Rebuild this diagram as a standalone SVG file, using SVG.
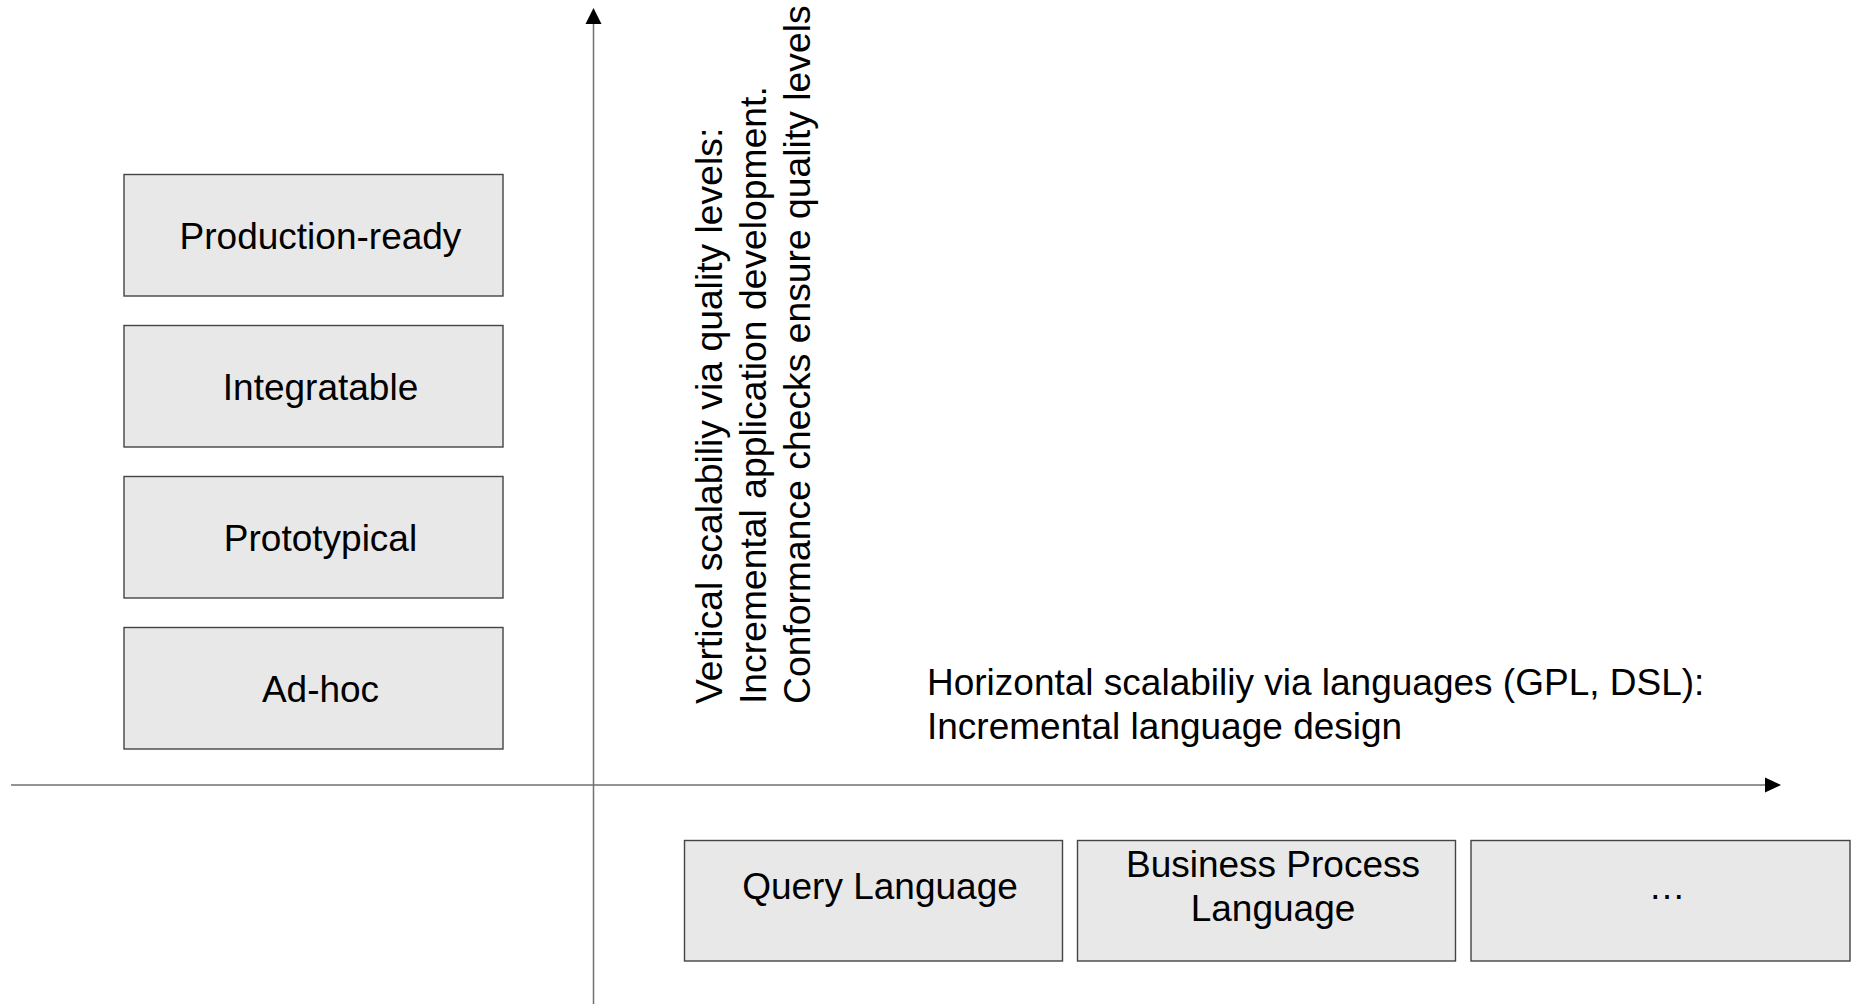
<svg xmlns="http://www.w3.org/2000/svg" width="1852" height="1004" viewBox="0 0 1852 1004">
  <style>
    .box { fill: #e8e8e8; stroke: #444; stroke-width: 1.4; }
    .lbl { font-family: "Liberation Sans", Arial, sans-serif; font-size: 37px; fill: #000; }
    .vcap { font-size: 37.3px; }
    .mid { text-anchor: middle; }
    .axis { stroke: #707070; stroke-width: 1.5; fill: none; }
    .head { fill: #000; }
  </style>

  <rect width="1852" height="1004" fill="#fff"/>

  <!-- axes -->
  <g id="connectors">
    <line class="axis" x1="593.5" y1="1004" x2="593.5" y2="22"/>
    <polygon class="head" points="593.5,8 601.5,24 585.5,24"/>
    <line class="axis" x1="11" y1="785" x2="1767" y2="785"/>
    <polygon class="head" points="1781,785 1765,777.5 1765,792.5"/>
  </g>

  <!-- quality levels -->
  <g id="production-ready">
    <rect class="box" x="124" y="174.5" width="379" height="121.5"/>
    <text class="lbl mid" x="320.5" y="249">Production-ready</text>
  </g>
  <g id="integratable">
    <rect class="box" x="124" y="325.5" width="379" height="121.5"/>
    <text class="lbl mid" x="320.5" y="400">Integratable</text>
  </g>
  <g id="prototypical">
    <rect class="box" x="124" y="476.5" width="379" height="121.5"/>
    <text class="lbl mid" x="320.5" y="551">Prototypical</text>
  </g>
  <g id="ad-hoc">
    <rect class="box" x="124" y="627.5" width="379" height="121.5"/>
    <text class="lbl mid" x="320.5" y="702">Ad-hoc</text>
  </g>

  <!-- languages -->
  <g id="query-language">
    <rect class="box" x="684.5" y="840.5" width="378" height="120.5"/>
    <text class="lbl mid" x="880" y="899">Query Language</text>
  </g>
  <g id="business-process-language">
    <rect class="box" x="1077.5" y="840.5" width="378" height="120.5"/>
    <text class="lbl mid" x="1273" y="877">Business Process</text>
    <text class="lbl mid" x="1273" y="921">Language</text>
  </g>
  <g id="more-languages">
    <rect class="box" x="1471" y="840.5" width="379" height="120.5"/>
    <text class="lbl mid" x="1667" y="899">…</text>
  </g>

  <!-- axis captions -->
  <g id="vertical-caption" transform="translate(722,704) rotate(-90)">
    <text class="lbl vcap" x="0" y="0">Vertical scalabiliy via quality levels:</text>
    <text class="lbl vcap" x="0" y="44">Incremental application development.</text>
    <text class="lbl vcap" x="0" y="88">Conformance checks ensure quality levels</text>
  </g>
  <g id="horizontal-caption">
    <text class="lbl" x="927" y="695">Horizontal scalabiliy via languages (GPL, DSL):</text>
    <text class="lbl" x="927" y="739">Incremental language design</text>
  </g>
</svg>
